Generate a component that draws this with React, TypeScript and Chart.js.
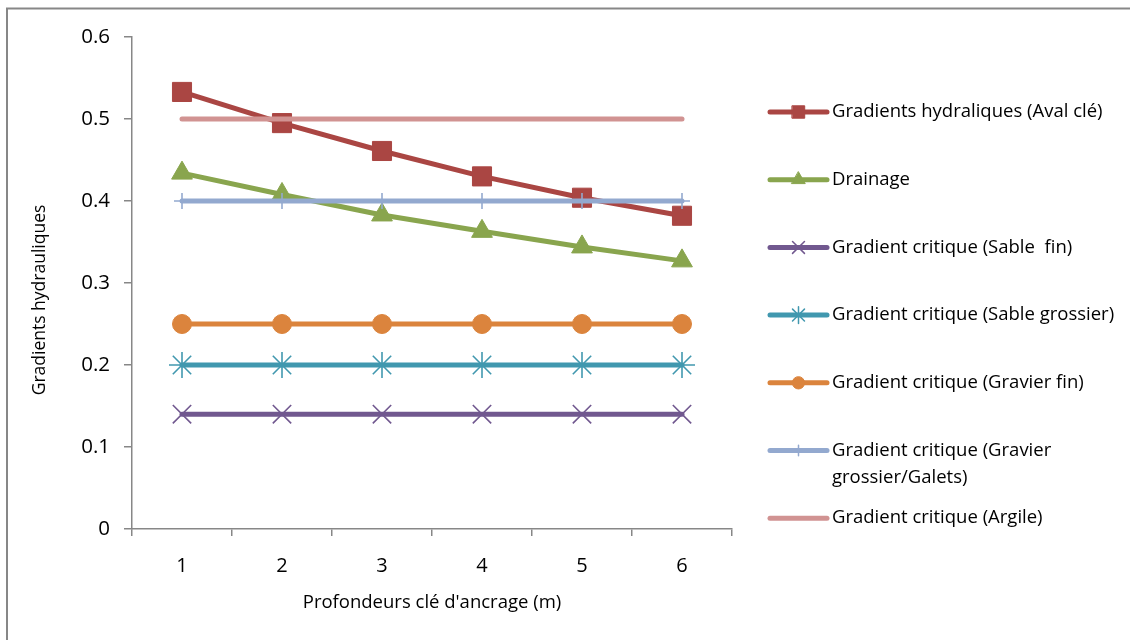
import React, { useEffect, useRef } from "react";
import { Chart, registerables } from "chart.js";
import { drawPoint } from "chart.js/helpers";

Chart.register(...registerables);

const categories = ["1", "2", "3", "4", "5", "6"];
const avalCle = [0.533, 0.495, 0.461, 0.43, 0.404, 0.382];
const drainage = [0.434, 0.408, 0.383, 0.363, 0.344, 0.327];
const sableFin = [0.14, 0.14, 0.14, 0.14, 0.14, 0.14];
const sableGrossier = [0.2, 0.2, 0.2, 0.2, 0.2, 0.2];
const gravierFin = [0.25, 0.25, 0.25, 0.25, 0.25, 0.25];
const gravierGrossier = [0.4, 0.4, 0.4, 0.4, 0.4, 0.4];
const argile = [0.5, 0.5, 0.5, 0.5, 0.5, 0.5];

const yTitle = "Gradients hydrauliques";
const xTitle = "Profondeurs clé d'ancrage (m)";

const seriesLabels: (string | string[])[] = [
  "Gradients hydraliques (Aval clé)",
  "Drainage",
  "Gradient critique (Sable  fin)",
  "Gradient critique (Sable grossier)",
  "Gradient critique (Gravier fin)",
  ["Gradient critique (Gravier", "grossier/Galets)"],
  "Gradient critique (Argile)",
];
const seriesData = [avalCle, drainage, sableFin, sableGrossier, gravierFin, gravierGrossier, argile];
const seriesColors = ["#AA4643", "#89A54E", "#71588F", "#4198AF", "#DB843D", "#93A9CF", "#D19392"];
const seriesMarkers = ["rect", "triangle", "crossRot", "star", "circle", "cross", "line"];
const markerRadius = [13.5, 12, 13, 13, 9.5, 8, 0];
const markerFilled = [true, true, false, false, true, false, false];

const FONT = "'Open Sans', 'Liberation Sans', sans-serif";

const frameAndLegend = {
  id: "frameAndLegend",
  afterDraw(chart: any) {
    const ctx = chart.ctx;
    ctx.save();
    // outer frame (top & left visible)
    ctx.strokeStyle = "#878787";
    ctx.lineWidth = 2;
    ctx.beginPath();
    ctx.moveTo(7, 640);
    ctx.lineTo(7, 8.5);
    ctx.lineTo(1130, 8.5);
    ctx.stroke();

    // y axis title
    ctx.save();
    ctx.translate(40, 300);
    ctx.rotate(-Math.PI / 2);
    ctx.font = `17.5px ${FONT}`;
    ctx.fillStyle = "#000";
    ctx.textAlign = "center";
    ctx.textBaseline = "middle";
    ctx.fillText(yTitle, 0, 0);
    ctx.restore();

    // legend
    const x0 = 770;
    const x1 = 827;
    const tx = 832;
    const startY = 112;
    const step = 67.7;
    ctx.font = `18.5px ${FONT}`;
    ctx.textBaseline = "middle";
    ctx.textAlign = "left";
    seriesLabels.forEach((lab, i) => {
      const y = startY + i * step;
      const color = seriesColors[i];
      ctx.strokeStyle = color;
      ctx.lineWidth = 5;
      ctx.lineCap = "round";
      ctx.beginPath();
      ctx.moveTo(x0, y);
      ctx.lineTo(x1, y);
      ctx.stroke();
      if (markerRadius[i] > 0) {
        ctx.fillStyle = color;
        ctx.strokeStyle = color;
        ctx.lineWidth = markerFilled[i] ? 1 : 1.5;
        drawPoint(ctx, { pointStyle: seriesMarkers[i], radius: markerRadius[i] * 0.65, rotation: 0, borderWidth: ctx.lineWidth } as any, (x0 + x1) / 2, y);
      }
      ctx.fillStyle = "#000";
      const lines = Array.isArray(lab) ? lab : [lab];
      lines.forEach((t, k) => ctx.fillText(t, tx, y + k * 27));
    });
    ctx.restore();
  },
};

export default function App() {
  const ref = useRef<HTMLCanvasElement>(null);
  useEffect(() => {
    if (!ref.current) return;
    const datasets = seriesData.map((d, i) => ({
      label: Array.isArray(seriesLabels[i]) ? (seriesLabels[i] as string[]).join(" ") : (seriesLabels[i] as string),
      data: d,
      borderColor: seriesColors[i],
      backgroundColor: markerFilled[i] ? seriesColors[i] : "transparent",
      borderWidth: 5,
      borderCapStyle: "round" as const,
      borderJoinStyle: "round" as const,
      pointStyle: seriesMarkers[i] as any,
      pointRadius: markerRadius[i],
      pointHoverRadius: markerRadius[i],
      pointBorderWidth: markerFilled[i] ? 1 : 1.6,
      pointBorderColor: seriesColors[i],
      pointBackgroundColor: seriesColors[i],
      tension: 0,
      order: seriesData.length - i,
    }));
    const chart = new Chart(ref.current, {
      type: "line",
      data: { labels: categories, datasets },
      plugins: [frameAndLegend],
      options: {
        responsive: false,
        animation: false,
        layout: { padding: { left: 0, top: 37, right: 398, bottom: 0 } },
        plugins: { legend: { display: false }, tooltip: { enabled: false } },
        scales: {
          x: {
            type: "category",
            offset: true,
            afterFit: (s: any) => { s.height = 111; },
            grid: {
              offset: true,
              drawOnChartArea: false,
              drawTicks: true,
              tickLength: 7,
              color: "#878787",
              lineWidth: 1.5,
            },
            border: { color: "#878787", width: 1.5 },
            ticks: { color: "#000", font: { family: FONT, size: 20 }, padding: 18, maxRotation: 0 },
            title: {
              display: true,
              text: xTitle,
              color: "#000",
              font: { family: FONT, size: 18.5 },
              padding: { top: 0, bottom: 26 },
            },
          },
          y: {
            min: 0,
            max: 0.6,
            afterFit: (s: any) => { s.width = 132; },
            grid: {
              drawOnChartArea: false,
              drawTicks: true,
              tickLength: 8,
              color: "#878787",
              lineWidth: 1.5,
            },
            border: { color: "#878787", width: 1.5 },
            ticks: { stepSize: 0.1, color: "#000", font: { family: FONT, size: 20.5 }, padding: 14 },
            title: { display: false },
          },
        },
      },
    });
    return () => chart.destroy();
  }, []);
  return (
    <div style={{ position: "absolute", left: 0, top: 0, width: 1130, height: 640, background: "#fff" }}>
      <canvas ref={ref} width={1130} height={640} style={{ display: "block" }} />
    </div>
  );
}
